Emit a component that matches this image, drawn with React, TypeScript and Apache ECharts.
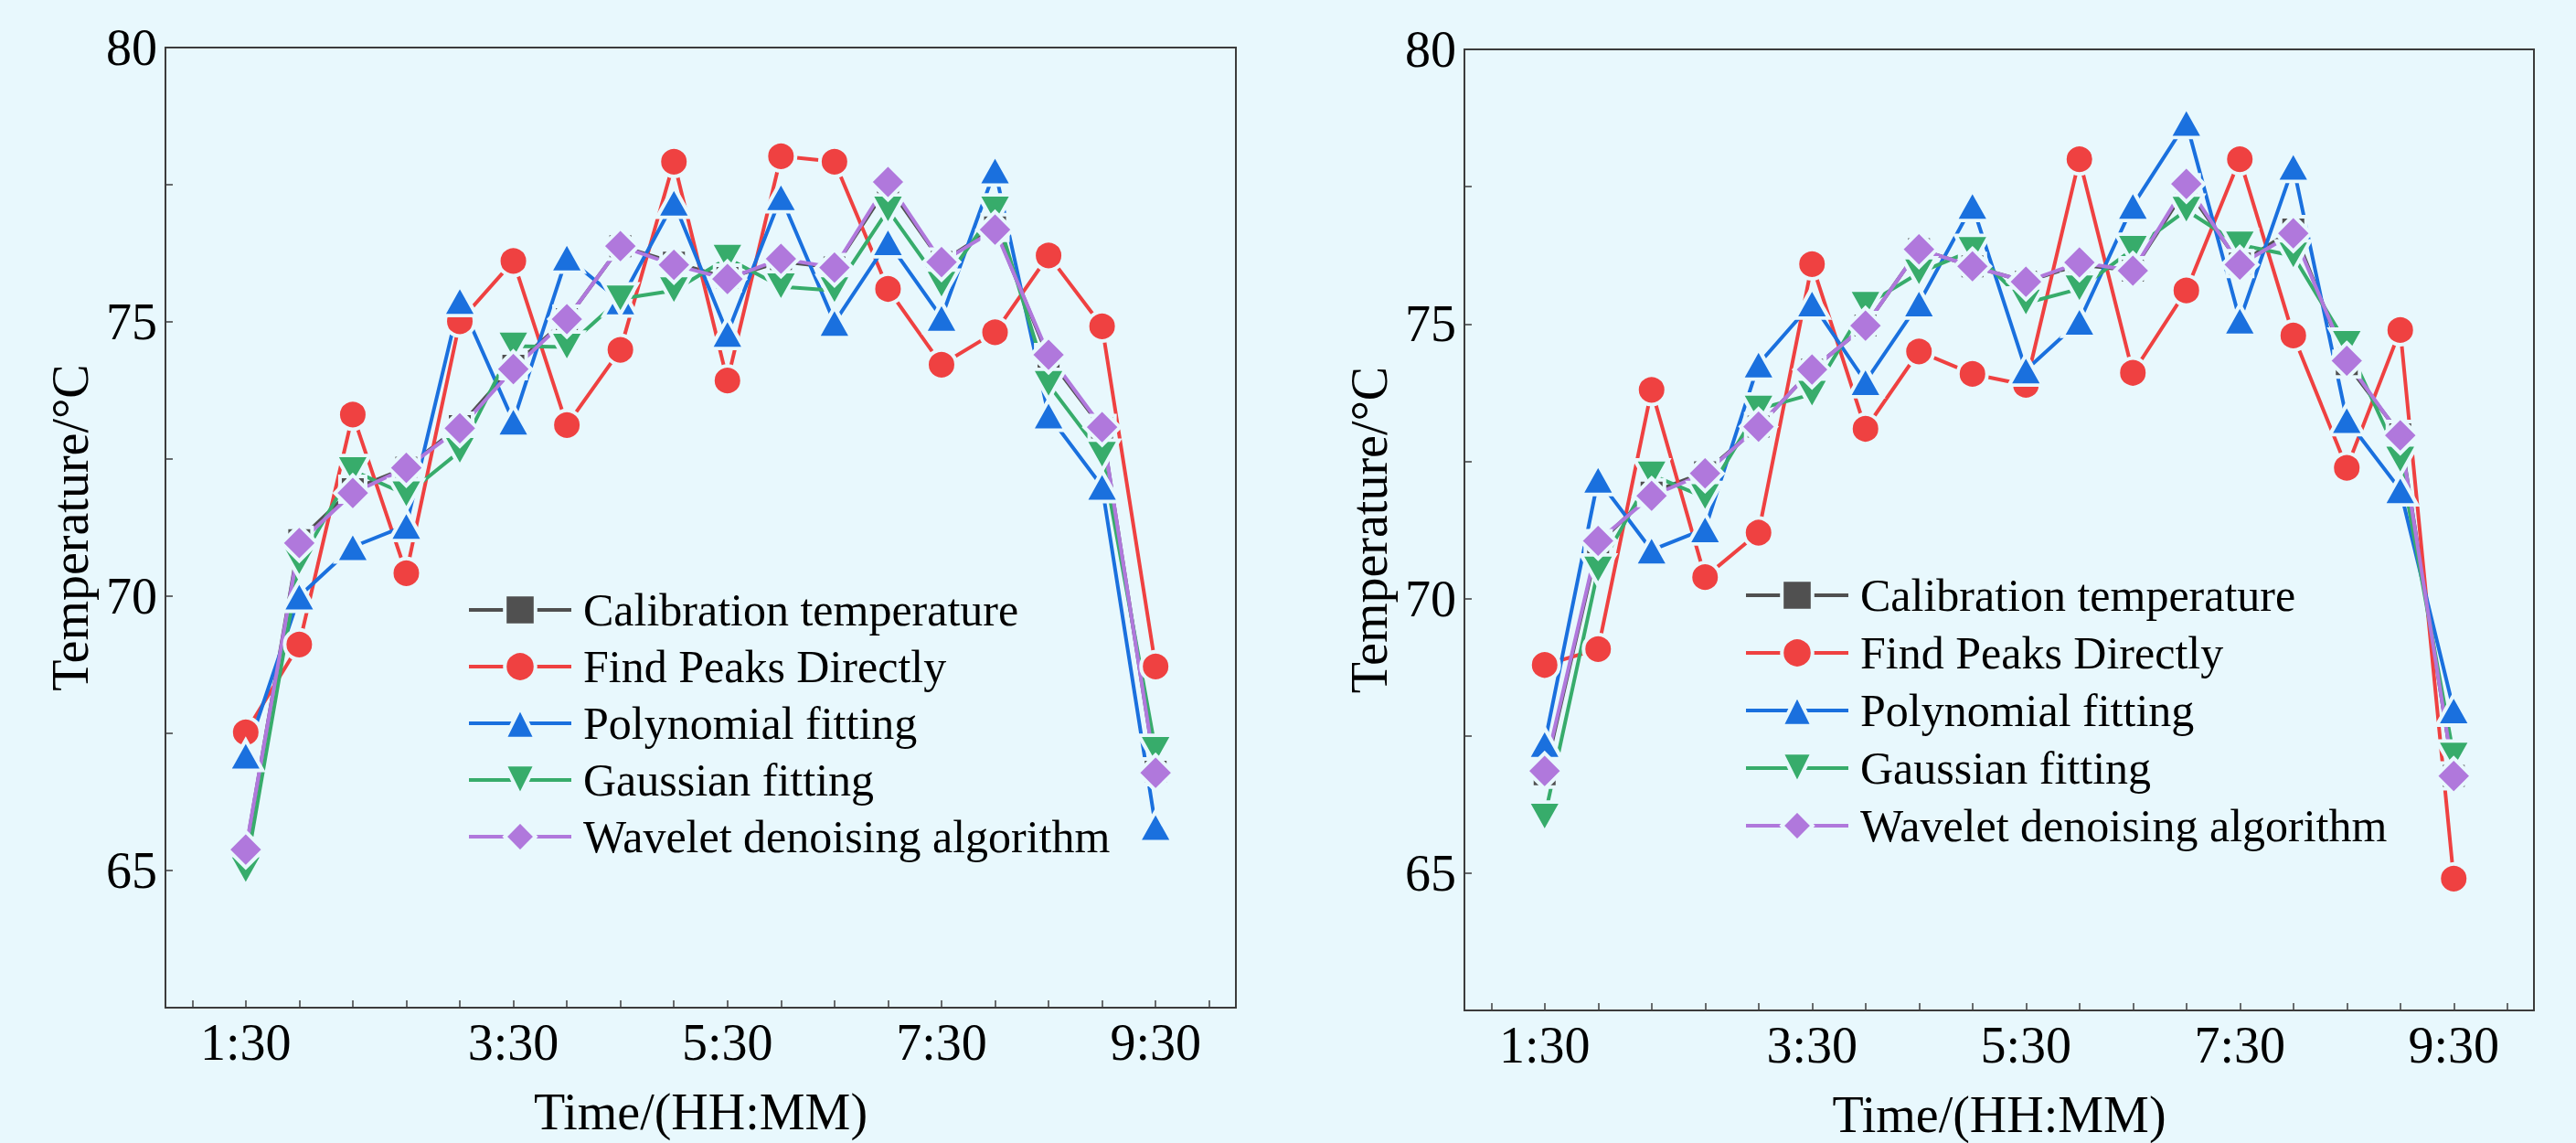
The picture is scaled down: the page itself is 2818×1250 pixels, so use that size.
import React, { useEffect, useRef } from "react";
import * as echarts from "echarts";

// ---- data ----
const X_TICKS = ["", "1:30", "", "", "", "", "3:30", "", "", "", "5:30", "", "", "", "7:30", "", "", "", "9:30", ""];
const SERIES_NAMES = [
  "Calibration temperature",
  "Find Peaks Directly",
  "Polynomial fitting",
  "Gaussian fitting",
  "Wavelet denoising algorithm",
];
const Y_MIN = 62.5;
const Y_MAX = 80;
const Y_STEP = 2.5;

// left panel
const L_CAL = [65.35, 71.02, 71.95, 72.34, 73.1, 74.2, 75.05, 76.38, 76.08, 75.8, 76.1, 75.99, 77.48, 76.09, 76.72, 74.35, 73.06, 66.8];
const L_PEAK = [67.52, 69.12, 73.31, 70.42, 75.01, 76.11, 73.12, 74.49, 77.92, 73.93, 78.02, 77.92, 75.6, 74.22, 74.81, 76.21, 74.92, 68.72];
const L_POLY = [67.1, 70.0, 70.9, 71.29, 75.39, 73.19, 76.18, 75.38, 77.18, 74.79, 77.28, 74.99, 76.46, 75.08, 77.77, 73.3, 72.0, 65.8];
const L_GAUSS = [65.0, 70.61, 72.29, 71.85, 72.64, 74.56, 74.54, 75.42, 75.57, 76.16, 75.64, 75.57, 77.04, 75.67, 77.04, 73.86, 72.57, 67.19];
const L_WAVE = [65.38, 70.97, 71.88, 72.34, 73.06, 74.14, 75.05, 76.38, 76.04, 75.78, 76.15, 75.99, 77.55, 76.09, 76.68, 74.4, 73.08, 66.78];

// right panel
const R_CAL = [66.8, 71.0, 71.93, 72.3, 73.13, 74.17, 74.97, 76.36, 76.05, 75.77, 76.08, 75.97, 77.48, 76.1, 76.72, 74.27, 72.99, 66.77];
const R_PEAK = [68.79, 69.08, 73.8, 70.39, 71.2, 76.09, 73.09, 74.5, 74.09, 73.89, 78.0, 74.11, 75.61, 78.0, 74.79, 72.38, 74.89, 64.9];
const R_POLY = [67.36, 72.17, 70.88, 71.27, 74.27, 75.38, 73.95, 75.38, 77.16, 74.16, 75.05, 77.16, 78.67, 75.07, 77.87, 73.26, 71.98, 67.97];
const R_GAUSS = [66.02, 70.52, 72.25, 71.84, 73.45, 73.72, 75.34, 75.93, 76.34, 75.38, 75.64, 76.36, 77.07, 76.44, 76.24, 74.63, 72.52, 67.13];
const R_WAVE = [66.86, 71.05, 71.87, 72.28, 73.13, 74.17, 74.97, 76.36, 76.05, 75.77, 76.12, 75.97, 77.55, 76.08, 76.65, 74.33, 72.97, 66.77];

const LEFT_DATA = [L_CAL, L_PEAK, L_POLY, L_GAUSS, L_WAVE];
const RIGHT_DATA = [R_CAL, R_PEAK, R_POLY, R_GAUSS, R_WAVE];

// ---- styles ----
const BG = "#E8F8FD";
const AXIS_COLOR = "#3c3c3c";
const FONT = "'Liberation Serif', 'Times New Roman', serif";
const COLORS = ["#505050", "#EF4141", "#1A70DE", "#37AC6B", "#B078DC"];
const BORDER = 4;
const SYMBOLS: any[] = [
  { symbol: "rect", size: 24 + BORDER, rotate: 0 },
  { symbol: "circle", size: 28 + BORDER, rotate: 0 },
  { symbol: "triangle", size: [33 + BORDER, 29 + BORDER], rotate: 0 },
  { symbol: "triangle", size: [33 + BORDER, 29 + BORDER], rotate: 180 },
  { symbol: "diamond", size: 35 + BORDER, rotate: 0 },
];

const GRIDS = [
  { left: 181, top: 52, width: 1171, height: 1050 },
  { left: 1602, top: 54, width: 1170, height: 1051 },
];

function makeXAxis(gridIndex: number) {
  return {
    type: "category",
    gridIndex,
    data: X_TICKS,
    boundaryGap: true,
    name: "Time/(HH:MM)",
    nameLocation: "middle",
    nameGap: 86,
    nameTextStyle: { fontSize: 56, lineHeight: 56, fontFamily: FONT, color: "#000" },
    axisLine: { show: true, onZero: false, lineStyle: { color: AXIS_COLOR, width: 2 } },
    axisTick: {
      show: true,
      inside: true,
      length: 8,
      interval: 0,
      alignWithLabel: true,
      lineStyle: { color: AXIS_COLOR, width: 1.5 },
    },
    axisLabel: { interval: 0, margin: 10, fontSize: 56, fontFamily: FONT, color: "#000" },
    splitLine: { show: false },
  };
}

function makeYAxis(gridIndex: number) {
  return {
    type: "value",
    gridIndex,
    min: Y_MIN,
    max: Y_MAX,
    interval: Y_STEP,
    name: "Temperature/°C",
    nameLocation: "middle",
    nameGap: 76,
    nameTextStyle: { fontSize: 56, fontFamily: FONT, color: "#000" },
    axisLine: { show: true, lineStyle: { color: AXIS_COLOR, width: 2 } },
    axisTick: { show: true, inside: true, length: 8, lineStyle: { color: AXIS_COLOR, width: 1.5 } },
    axisLabel: {
      margin: 9,
      fontSize: 56,
      fontFamily: FONT,
      color: "#000",
      formatter: (v: number) => (Math.abs(v % 5) < 1e-6 ? String(v) : ""),
    },
    splitLine: { show: false },
  };
}

function makeSeries(panel: number, data: number[][]) {
  return data.map((vals, k) => ({
    type: "line",
    name: SERIES_NAMES[k],
    xAxisIndex: panel,
    yAxisIndex: panel,
    data: vals.map((v, i) => [i + 1, v]),
    symbol: SYMBOLS[k].symbol,
    symbolSize: SYMBOLS[k].size,
    symbolRotate: SYMBOLS[k].rotate,
    showAllSymbol: true,
    lineStyle: { color: COLORS[k], width: 4 },
    itemStyle: { color: COLORS[k], borderColor: BG, borderWidth: BORDER },
    emphasis: { disabled: true },
  }));
}

function makeLegend(left: number, top: number, gap: number) {
  return {
    show: true,
    orient: "vertical",
    left,
    top,
    itemWidth: 112,
    itemHeight: 42,
    itemGap: gap,
    selectedMode: false,
    data: SERIES_NAMES,
    itemStyle: { borderColor: BG, borderWidth: BORDER },
    lineStyle: { width: 4 },
    textStyle: { fontSize: 50, fontFamily: FONT, color: "#000", lineHeight: 50, padding: [0, 0, 0, 8] },
  };
}

export default function App() {
  const ref = useRef<HTMLDivElement>(null);
  useEffect(() => {
    document.body.style.margin = "0";
    document.body.style.background = BG;
    if (!ref.current) return;
    const chart = echarts.init(ref.current, undefined, { renderer: "svg" });
    chart.setOption({
      animation: false,
      backgroundColor: BG,
      grid: GRIDS.map((g) => ({
        ...g,
        show: true,
        borderColor: AXIS_COLOR,
        borderWidth: 2,
        backgroundColor: "transparent",
        containLabel: false,
        outerBoundsMode: "none",
      })),
      xAxis: [makeXAxis(0), makeXAxis(1)],
      yAxis: [makeYAxis(0), makeYAxis(1)],
      legend: [makeLegend(506, 637, 12), makeLegend(1903, 621, 13)],
      tooltip: { show: false },
      series: [...makeSeries(0, LEFT_DATA), ...makeSeries(1, RIGHT_DATA)],
    });
    return () => chart.dispose();
  }, []);
  return <div ref={ref} style={{ width: 2818, height: 1250, background: BG }} />;
}
